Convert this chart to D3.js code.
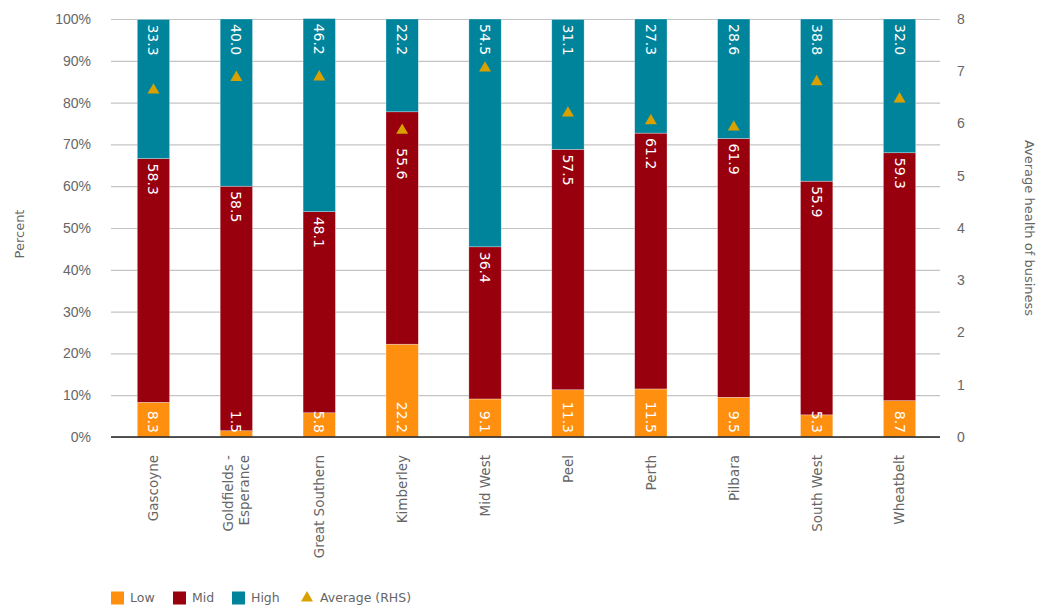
<!DOCTYPE html>
<html>
<head>
<meta charset="utf-8">
<script src="https://cdn.jsdelivr.net/npm/d3@7"></script>
<style>
  body { margin: 0; background: #fff; }
  svg { font-family: "DejaVu Sans", sans-serif; }
</style>
</head>
<body>
<svg width="1040" height="608"></svg>
<script>
// данные
const regions = ["Gascoyne", "Goldfields - Esperance", "Great Southern", "Kimberley", "Mid West",
                 "Peel", "Perth", "Pilbara", "South West", "Wheatbelt"];
const low  = [8.3, 1.5, 5.8, 22.2, 9.1, 11.3, 11.5, 9.5, 5.3, 8.7];
const mid  = [58.3, 58.5, 48.1, 55.6, 36.4, 57.5, 61.2, 61.9, 55.9, 59.3];
const high = [33.3, 40.0, 46.2, 22.2, 54.5, 31.1, 27.3, 28.6, 38.8, 32.0];
const average = [6.64, 6.88, 6.89, 5.87, 7.06, 6.2, 6.05, 5.93, 6.8, 6.47];
const leftTicks = [0, 10, 20, 30, 40, 50, 60, 70, 80, 90, 100];
const rightTicks = [0, 1, 2, 3, 4, 5, 6, 7, 8];

const series = [
  { name: "Low",  values: low,  color: "#FF8F0F" },
  { name: "Mid",  values: mid,  color: "#98000D" },
  { name: "High", values: high, color: "#00849C" }
];
const avgColor = "#D9A100";
const textColor = "#666";

const svg = d3.select("svg");

const area = { left: 111, right: 940, top: 19, bottom: 437 };

const scX = d3.scaleBand()
    .domain(regions)
    .range([area.left + 1, area.right + 1])
    .paddingInner(0.61)
    .paddingOuter(0.305);

const scY = d3.scaleLinear().domain([0, 100]).range([area.bottom, area.top]);
const scY2 = d3.scaleLinear().domain([0, 8]).range([area.bottom, area.top]);

// сетка
const grid = svg.append("g")
    .attr("transform", `translate(${area.left},0)`)
    .call(d3.axisLeft(scY).tickValues(leftTicks).tickSize(-(area.right - area.left)).tickFormat(""));
grid.select(".domain").remove();
grid.selectAll("line").attr("stroke", "#c4c4c4").attr("stroke-width", 1.2);

// подписи левой оси
const axL = svg.append("g")
    .attr("transform", `translate(${area.left - 20},0)`)
    .call(d3.axisLeft(scY).tickValues(leftTicks).tickSize(0).tickFormat(d => d + "%"));
axL.select(".domain").remove();
axL.selectAll("text").attr("fill", textColor).style("font-size", "14px").attr("x", 0);

// подписи правой оси
const axR = svg.append("g")
    .attr("transform", `translate(${area.right + 17},0)`)
    .call(d3.axisRight(scY2).tickValues(rightTicks).tickSize(0));
axR.select(".domain").remove();
axR.selectAll("text").attr("fill", textColor).style("font-size", "14px").attr("x", 0);

// столбцы
const labels = [];
series.forEach((s, si) => {
  s.values.forEach((v, i) => {
    const base = series.slice(0, si).reduce((acc, p) => acc + p.values[i], 0);
    const y0 = scY(base), y1 = scY(base + v);
    svg.append("rect")
      .attr("x", scX(regions[i]))
      .attr("y", y1)
      .attr("width", scX.bandwidth())
      .attr("height", y0 - y1)
      .attr("fill", s.color)
      .attr("stroke", "rgba(255,255,255,0.5)")
      .attr("stroke-width", 0.6);
    labels.push({ si, i, v, y0, y1 });
  });
});

// подписи значений (повернуты на 90), поверх всех столбцов
labels.forEach(d => {
  const cx = scX(regions[d.i]) + scX.bandwidth() / 2;
  const isLow = d.si === 0;
  let yStart = d.y1 + 5;
  // сдвигаем подпись, если она попадает на треугольник
  const ty = scY2(average[d.i]);
  if (!isLow && ty > d.y1 - 6 && ty < d.y1 + 36) yStart = ty + 18;
  svg.append("text")
    .attr("transform", `translate(${cx},${isLow ? d.y0 - 4 : yStart}) rotate(90)`)
    .attr("dy", "0.36em")
    .attr("text-anchor", isLow ? "end" : "start")
    .attr("fill", "#fff")
    .style("font-size", "14px")
    .text(d.v.toFixed(1));
});

// нулевая линия
svg.append("line")
  .attr("x1", area.left).attr("x2", area.right)
  .attr("y1", scY(0)).attr("y2", scY(0))
  .attr("stroke", "#222").attr("stroke-width", 1.5);

// средние значения (правая ось)
const tri = d3.symbol().type(d3.symbolTriangle).size(62);
average.forEach((a, i) => {
  svg.append("path")
    .attr("d", tri)
    .attr("transform", `translate(${scX(regions[i]) + scX.bandwidth() / 2},${scY2(a)})`)
    .attr("fill", avgColor);
});

// подписи категорий
regions.forEach(r => {
  const cx = scX(r) + scX.bandwidth() / 2;
  const lines = r === "Goldfields - Esperance" ? ["Goldfields -", "Esperance"] : [r];
  const t = svg.append("text")
    .attr("transform", `translate(${cx},${area.bottom + 18}) rotate(-90)`)
    .attr("text-anchor", "end")
    .attr("fill", textColor)
    .style("font-size", "13.5px");
  lines.forEach((l, k) => {
    t.append("tspan")
      .attr("x", 0)
      .attr("dy", lines.length === 1 ? "0.36em" : (k === 0 ? "-0.25em" : "1.2em"))
      .text(l);
  });
});

// названия осей
svg.append("text")
  .attr("transform", `translate(24,${(area.top + area.bottom) / 2 + 6}) rotate(-90)`)
  .attr("text-anchor", "middle")
  .attr("fill", textColor)
  .style("font-size", "13px")
  .text("Percent");

svg.append("text")
  .attr("transform", `translate(1025,${(area.top + area.bottom) / 2}) rotate(90)`)
  .attr("text-anchor", "middle")
  .attr("fill", textColor)
  .style("font-size", "13px")
  .text("Average health of business");

// легенда
const legend = svg.append("g").attr("transform", "translate(111,598)");
const legItems = series.map(s => ({ name: s.name, color: s.color, type: "rect" }))
  .concat([{ name: "Average (RHS)", color: avgColor, type: "tri" }]);
const legX = [0, 62, 121, 190];
legItems.forEach((d, i) => {
  const g = legend.append("g").attr("transform", `translate(${legX[i]},0)`);
  if (d.type === "rect") {
    g.append("rect").attr("x", 0).attr("y", -6.5).attr("width", 13).attr("height", 13).attr("fill", d.color);
  } else {
    g.append("path").attr("d", tri).attr("transform", "translate(6,0)").attr("fill", d.color);
  }
  g.append("text")
    .attr("x", 19)
    .attr("dy", "0.35em")
    .attr("fill", textColor)
    .style("font-size", "12.5px")
    .text(d.name);
});
</script>
</body>
</html>
